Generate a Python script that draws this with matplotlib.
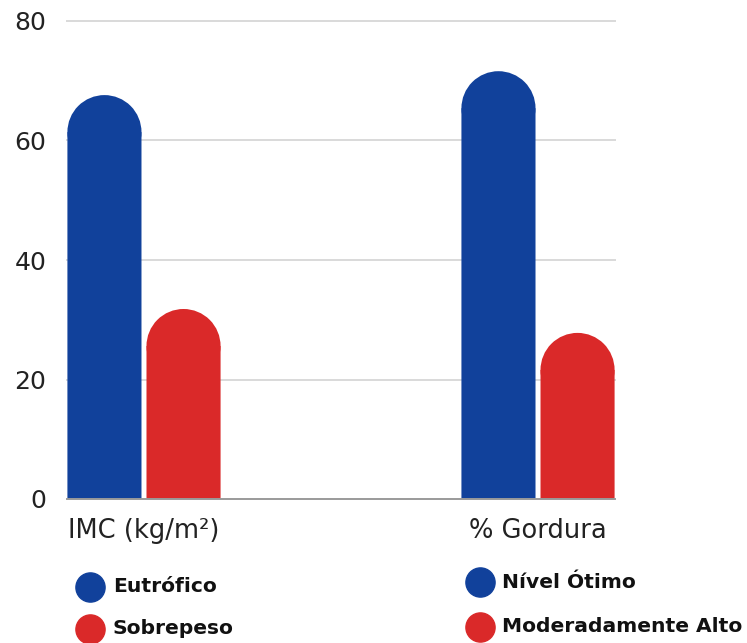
import matplotlib
matplotlib.use("Agg")
import matplotlib.pyplot as plt
from matplotlib.patches import Ellipse
from matplotlib.lines import Line2D

categories = ["IMC (kg/m²)", "% Gordura"]
blue_values = [67.6, 71.6]
red_values = [31.8, 27.8]
legend_left = ["Eutrófico", "Sobrepeso"]
legend_right = ["Nível Ótimo", "Moderadamente Alto"]
y_ticks = [0, 20, 40, 60, 80]

BLUE = "#11419B"
RED = "#DA2929"
FONT = "DejaVu Sans"

W, H = 747, 643
fig = plt.figure(figsize=(W / 100, H / 100), dpi=100)
ax = fig.add_axes([67 / W, (H - 499) / H, (615 - 67) / W, (499 - 21) / H])

bar_w = 0.188
gap = 0.0127
half = 0.1954
ax.set_xlim(-half, len(categories) - 1 + half)
ax.set_ylim(0, 80)

# data-unit height of a circular cap whose diameter equals the bar width
fig.canvas.draw()
p0 = ax.transData.transform((0, 0))
p1 = ax.transData.transform((1, 1))
px_x = p1[0] - p0[0]
px_y = p1[1] - p0[1]
ry = (bar_w * px_x / 2) / px_y


def rounded_bars(xs, values, color):
    bodies = [v - ry for v in values]
    bars = ax.bar(xs, bodies, width=bar_w, color=color, linewidth=0, zorder=3)
    for b in bars:
        b.set_snap(False)
    for x, b in zip(xs, bodies):
        cap = Ellipse((x, b), bar_w, 2 * ry, facecolor=color,
                      edgecolor="none", linewidth=0, zorder=3)
        cap.set_snap(False)
        ax.add_patch(cap)


x_idx = list(range(len(categories)))
offset = bar_w / 2 + gap / 2
rounded_bars([i - offset for i in x_idx], blue_values, BLUE)
rounded_bars([i + offset for i in x_idx], red_values, RED)

for t in y_ticks[1:]:
    ax.axhline(t, color="#d9d9d9", linewidth=1.4, zorder=1, clip_on=False)
ax.axhline(0, color="#9a9a9a", linewidth=1.4, zorder=4, clip_on=False)

for s in ax.spines.values():
    s.set_visible(False)
ax.set_yticks(y_ticks)
ax.set_yticklabels([str(t) for t in y_ticks], fontsize=18, family=FONT, color="#222222")
ax.set_xticks(x_idx)
ax.set_xticklabels(categories, fontsize=18.5, family=FONT, color="#222222")
ax.tick_params(axis="y", length=0, pad=15)
ax.tick_params(axis="x", length=0, pad=14)

# legends under each category group
def legend_entry(cx, cy, tx, color, label):
    fig.add_artist(Line2D([cx / W], [1 - cy / H], marker="o", markersize=21,
                          color=color, linestyle="none", transform=fig.transFigure))
    fig.text(tx / W, 1 - cy / H, label, fontsize=14.6, fontweight="bold", family=FONT,
             color="#111111", va="center", ha="left")


legend_entry(90, 587, 113, BLUE, legend_left[0])
legend_entry(90, 629, 113, RED, legend_left[1])
legend_entry(480, 582, 502, BLUE, legend_right[0])
legend_entry(480, 627, 502, RED, legend_right[1])

fig.savefig("out.png", dpi=100)
